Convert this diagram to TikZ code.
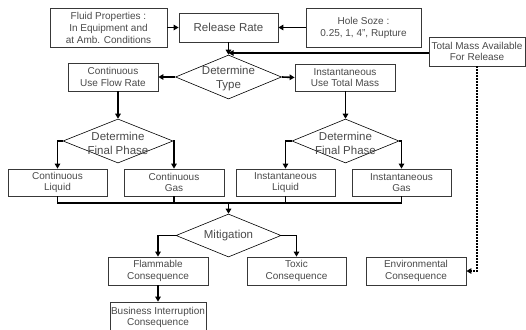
\documentclass[tikz,border=0pt]{standalone}
\usepackage{fontspec}
\setmainfont{Liberation Sans}
\usetikzlibrary{arrows.meta,shapes.geometric}
\definecolor{txt}{HTML}{4A4A4A}
\definecolor{edge}{HTML}{383838}
\begin{document}
\begin{tikzpicture}[x=1pt,y=-1pt,
  box/.style={draw=edge, line width=0.8pt, fill=white, text=txt,
    font=\fontsize{10}{11.5}\selectfont, align=center, inner sep=0pt},
  dia/.style={draw=black, diamond, line width=0.6pt, inner sep=0pt},
  dtext/.style={text=txt, font=\fontsize{11.5}{14}\selectfont, align=center, inner sep=0pt},
  conn/.style={line width=1.6pt, -{Triangle[length=5pt,width=5.5pt]}},
  lw/.style={line width=1.6pt},
  dashconn/.style={line width=1.3pt, dash pattern=on 2pt off 1pt, -{Triangle[length=5pt,width=5.5pt]}}]
\clip (0,0) rectangle (526,329);
\fill[white] (0,0) rectangle (526,329);
% top row
\node[box, minimum width=117pt, minimum height=39pt, font=\fontsize{10}{12}\selectfont] (fluid) at (108.5,27.5) {Fluid Properties :\\In Equipment and\\at Amb. Conditions};
\node[box, minimum width=99pt, minimum height=29pt, font=\fontsize{11.5}{13}\selectfont] (release) at (228.5,27.5) {Release Rate};
\node[box, minimum width=115pt, minimum height=39pt, font=\fontsize{10}{12}\selectfont] (hole) at (363.5,27.5) {Hole Soze :\\0.25, 1, 4", Rupture};
\node[box, minimum width=96pt, minimum height=29pt] (total) at (477,51.5) {Total Mass Available\\For Release};
% determine type
\node[dia, minimum width=106pt, minimum height=44pt] (typed) at (228.5,77) {};
\node[dtext] (typet) at (228.5,79) {Determine\\Type};
\node[box, minimum width=90pt, minimum height=28pt] (contuse) at (113,77) {Continuous\\Use Flow Rate};
\node[box, minimum width=100pt, minimum height=27pt] (instuse) at (345,77.5) {Instantaneous\\Use Total Mass};
% final phase diamonds
\node[dia, minimum width=110pt, minimum height=44pt] (lphase) at (118,141) {};
\node[dtext] (lphaset) at (118,143) {Determine\\Final Phase};
\node[dia, minimum width=107pt, minimum height=44pt] (rphase) at (345.5,141) {};
\node[dtext] (rphaset) at (345.5,143) {Determine\\Final Phase};
% phase boxes
\node[box, minimum width=99pt, minimum height=27pt] (cliq) at (57.5,182.5) {Continuous\\Liquid};
\node[box, minimum width=100pt, minimum height=27pt] (cgas) at (174,182.5) {Continuous\\Gas};
\node[box, minimum width=99pt, minimum height=27pt] (iliq) at (285.5,182.5) {Instantaneous\\Liquid};
\node[box, minimum width=99pt, minimum height=27pt] (igas) at (401.5,182.5) {Instantaneous\\Gas};
% mitigation
\node[dia, minimum width=105pt, minimum height=43pt] (mitig) at (228.5,235.5) {};
\node[dtext] (mitigt) at (228.5,236) {Mitigation};
% consequences
\node[box, minimum width=100pt, minimum height=28pt] (flam) at (158,271) {Flammable\\Consequence};
\node[box, minimum width=99pt, minimum height=28pt] (toxic) at (296.5,271) {Toxic\\Consequence};
\node[box, minimum width=100pt, minimum height=28pt] (env) at (416,271) {Environmental\\Consequence};
\node[box, minimum width=96pt, minimum height=31pt] (bus) at (158,317.5) {Business Interruption\\Consequence};
% coordinates
\coordinate (j1) at (228.5,53);
\coordinate (busy) at (0,203);
% connectors
\draw[conn] (fluid.east) -- (release.west);
\draw[conn] (hole.west) -- (release.east);
\draw[conn] (release.south) -- (typed.north);
\draw[conn] (total.west |- j1) -- (j1);
\draw[conn] (typed.west) -- (contuse.east);
\draw[conn] (typed.east) -- (instuse.west);
\draw[conn] (lphase.north |- contuse.south) -- (lphase.north);
\draw[conn] (rphase.north |- instuse.south) -- (rphase.north);
\draw[conn] (lphase.west) -| (cliq.north);
\draw[conn] (lphase.east) -| (cgas.north);
\draw[conn] (rphase.west) -| (iliq.north);
\draw[conn] (rphase.east) -| (igas.north);
\draw[lw] (cliq.south) |- (igas.south |- busy) -- (igas.south);
\draw[lw] (cgas.south) -- (cgas.south |- busy);
\draw[lw] (iliq.south) -- (iliq.south |- busy);
\draw[conn] (mitig.north |- busy) -- (mitig.north);
\draw[conn] (mitig.west) -| (flam.north);
\draw[conn] (mitig.east) -| (toxic.north);
\draw[conn] (flam.south) -- (bus.north);
\draw[dashconn] (total.south) |- (env.east);
\end{tikzpicture}
\end{document}
